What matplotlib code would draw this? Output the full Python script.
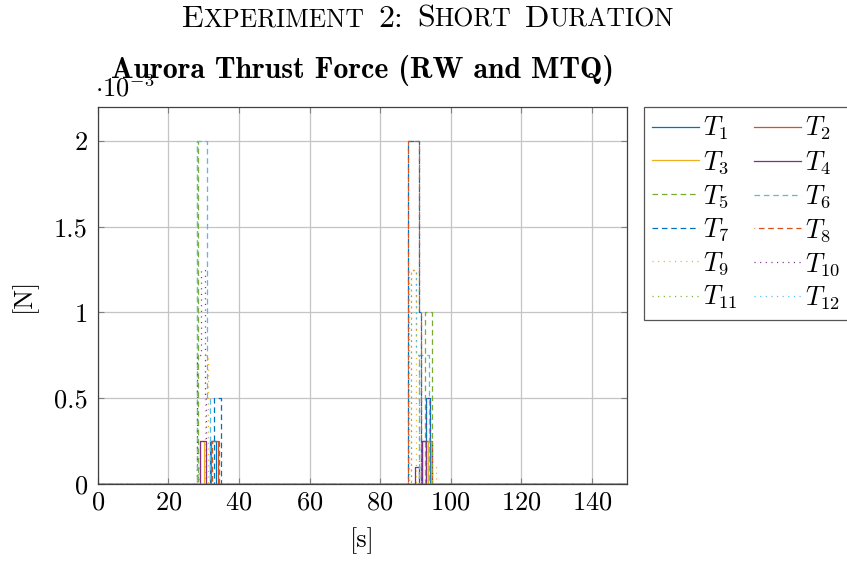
import numpy as np
import matplotlib
matplotlib.use("Agg")
import matplotlib.pyplot as plt
from matplotlib.ticker import FuncFormatter
from matplotlib.offsetbox import TextArea, HPacker, AnchoredOffsetbox

# -----------------------------
# Data (thrust in N, steps change at the given times in s)
# -----------------------------
t_end = 150

t1_times = [0, 31.9, 33.5, 92.9, 94.0]
t1_force = [0, 0.25e-3, 0, 0.5e-3, 0]

t2_times = [0, 32.2, 34.1, 91.8, 94.6]
t2_force = [0, 0.25e-3, 0, 0.25e-3, 0]

t3_times = [0, 29.0, 30.2, 93.5, 94.3]
t3_force = [0, 0.25e-3, 0, 0.25e-3, 0]

t4_times = [0, 29.0, 30.8, 89.8, 90.9, 92.0, 93.0]
t4_force = [0, 0.25e-3, 0, 0.1e-3, 0, 0.25e-3, 0]

t5_times = [0, 28.0, 28.3, 92.7, 94.8]
t5_force = [0, 2.0e-3, 0, 1.0e-3, 0]

t6_times = [0, 28.0, 31.0, 31.9, 91.0, 93.7]
t6_force = [0, 2.0e-3, 0.5e-3, 0, 0.75e-3, 0]

t7_times = [0, 33.0, 35.0, 87.8, 90.9, 91.7]
t7_force = [0, 0.5e-3, 0, 2.0e-3, 1.0e-3, 0]

t8_times = [0, 32.5, 34.3, 87.8, 90.9, 91.7]
t8_force = [0, 0.25e-3, 0, 2.0e-3, 1.0e-3, 0]

t9_times = [0, 30.5, 31.2, 88.7, 90.1, 94.6, 95.7]
t9_force = [0, 0.75e-3, 0, 1.25e-3, 0, 0.1e-3, 0]

t10_times = [0, 28.0, 29.4, 30.3, 30.8, 92.9, 94.0, 94.8]
t10_force = [0, 0.75e-3, 1.25e-3, 0.5e-3, 0, 0.5e-3, 0.25e-3, 0]

t11_times = [0, 28.0, 28.5, 88.7, 90.1, 90.9]
t11_force = [0, 0.1e-3, 0, 1.25e-3, 0.75e-3, 0]

t12_times = [0, 28.0, 28.6, 88.2, 90.1, 90.9]
t12_force = [0, 0.1e-3, 0, 1.25e-3, 0.75e-3, 0]

all_times = [t1_times, t2_times, t3_times, t4_times, t5_times, t6_times,
             t7_times, t8_times, t9_times, t10_times, t11_times, t12_times]
all_force = [t1_force, t2_force, t3_force, t4_force, t5_force, t6_force,
             t7_force, t8_force, t9_force, t10_force, t11_force, t12_force]
labels = [f"$T_{{{i}}}$" for i in range(1, 13)]

x_ticks = [0, 20, 40, 60, 80, 100, 120, 140]
y_ticks = [0, 0.5e-3, 1.0e-3, 1.5e-3, 2.0e-3]

# -----------------------------
# Styles
# -----------------------------
colors = ["#0072BD", "#D95319", "#EDB120", "#7E2F8E", "#77AC30", "#4DBEEE"]
dashed = (0, (4.5, 3.0))
dotted = (0, (0.9, 3.6))
styles = ["-"] * 4 + [dashed] * 4 + [dotted] * 4

plt.rcParams["font.family"] = "cmr10"
plt.rcParams["mathtext.fontset"] = "cm"
plt.rcParams["axes.formatter.use_mathtext"] = True

fig = plt.figure(figsize=(8.47, 5.61), dpi=100)
ax = fig.add_axes([0.1153, 0.1373, 0.6253, 0.6725])

handles = []
for i in range(12):
    tt = list(all_times[i]) + [t_end]
    ff = list(all_force[i]) + [all_force[i][-1]]
    ls = styles[i]
    if i == 7:
        ls = (4.0, (4.5, 3.0))
    h, = ax.plot(tt, ff, drawstyle="steps-post", color=colors[i % 6],
                 linestyle=ls, linewidth=0.9, label=labels[i])
    handles.append(h)

ax.set_xlim(0, 150)
ax.set_ylim(0, 2.2e-3)
ax.set_xticks(x_ticks)
ax.set_yticks(y_ticks)
ax.yaxis.set_major_formatter(FuncFormatter(lambda v, p: f"{v * 1e3:g}"))

ax.grid(True, color="#c4c4c4", linewidth=0.9)
ax.set_axisbelow(True)
for s in ax.spines.values():
    s.set_color("#404040")
    s.set_linewidth(0.9)

ax.tick_params(axis="both", which="major", direction="in", length=4,
               color="#808080", top=True, right=True, labelsize=19)
ax.tick_params(axis="x", pad=5)
ax.tick_params(axis="y", pad=7)

ax.set_xlabel("[s]", fontsize=19)
ax.xaxis.set_label_coords(0.5, -0.115)
ax.set_ylabel("[N]", fontsize=19)
ax.yaxis.set_label_coords(-0.115, 0.5)

# scale marker
ax.text(-0.005, 1.0 + 5 / 377, r"$\cdot 10^{-3}$", transform=ax.transAxes,
        fontsize=19, ha="left", va="bottom")

# sub title
ax.set_title("Aurora Thrust Force (RW and MTQ)", fontfamily="cmb10",
             fontsize=21.5, pad=21)

# -----------------------------
# Legend (row order T1 T2 / T3 T4 ...)
# -----------------------------
order = [0, 2, 4, 6, 8, 10, 1, 3, 5, 7, 9, 11]
leg = fig.legend([handles[k] for k in order], [labels[k] for k in order],
                 ncol=2, loc="upper left",
                 bbox_to_anchor=(644 / 847, 1 - 107 / 561),
                 fontsize=19, handlelength=1.8, handletextpad=0.15,
                 columnspacing=0.6, labelspacing=0.26, borderpad=0.3,
                 borderaxespad=0, fancybox=False, framealpha=1)
leg.get_frame().set_edgecolor("#555555")
leg.get_frame().set_linewidth(0.9)

# -----------------------------
# Main title in small caps
# -----------------------------
big = 23
small = 18.5
words = [("E", "XPERIMENT"), ("2:", ""), ("S", "HORT"), ("D", "URATION")]
word_boxes = []
for first, rest in words:
    parts = [TextArea(first, textprops=dict(fontsize=big, family="cmr10"))]
    if rest:
        parts.append(TextArea(rest, textprops=dict(fontsize=small, family="cmr10")))
    word_boxes.append(HPacker(children=parts, align="baseline", pad=0, sep=0))
title_box = HPacker(children=word_boxes, align="baseline", pad=0, sep=10)
anchored = AnchoredOffsetbox(loc="center", child=title_box, frameon=False,
                             bbox_to_anchor=(0.505, 1 - 19 / 561),
                             bbox_transform=fig.transFigure, pad=0, borderpad=0)
fig.add_artist(anchored)

fig.savefig("out.png", dpi=100)
